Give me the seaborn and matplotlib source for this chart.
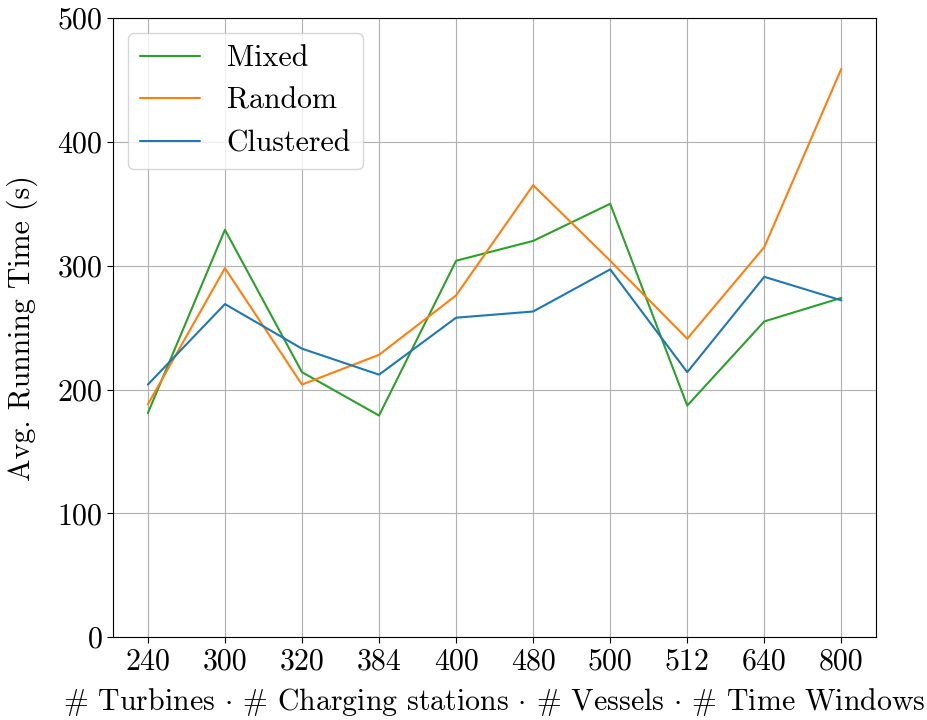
import matplotlib
matplotlib.use("Agg")
import matplotlib.pyplot as plt
import seaborn as sns
import pandas as pd

categories = ["240", "300", "320", "384", "400", "480", "500", "512", "640", "800"]
mixed = [181, 329, 214, 179, 304, 320, 350, 187, 255, 274]
random_ = [188, 298, 204, 228, 276, 365, 304, 241, 315, 459]
clustered = [204, 269, 233, 212, 258, 263, 297, 214, 291, 272]
series_names = ["Mixed", "Random", "Clustered"]
colors = ["#2ca02c", "#ff7f0e", "#1f77b4"]

df = pd.DataFrame({
    "x": categories * 3,
    "y": mixed + random_ + clustered,
    "series": [s for s in series_names for _ in categories],
})

sns.set_style("ticks")
plt.rcParams["font.family"] = ["cmr10"]
plt.rcParams["mathtext.fontset"] = "cm"
plt.rcParams["axes.unicode_minus"] = False
plt.rcParams["axes.formatter.use_mathtext"] = True
plt.rcParams["text.color"] = "black"
plt.rcParams["axes.labelcolor"] = "black"
plt.rcParams["xtick.color"] = "black"
plt.rcParams["ytick.color"] = "black"

fig = plt.figure(figsize=(9.28, 7.2), dpi=100)
ax = fig.add_axes([0.122, 0.115, 0.822, 0.86])
sns.lineplot(data=df, x="x", y="y", hue="series", hue_order=series_names,
             palette=colors, ax=ax, sort=False, linewidth=1.5)
ax.set_ylim(0, 500)
ax.set_yticks([0, 100, 200, 300, 400, 500])
ax.grid(True, color="#b0b0b0", linewidth=0.8)
ax.set_axisbelow(True)
for s in ax.spines.values():
    s.set_visible(True)
    s.set_color("black")
ax.tick_params(labelsize=21.5, length=4)
ax.set_ylabel("Avg. Running Time (s)", fontsize=21.5, labelpad=14)
ax.set_xlabel(r"$\#$ Turbines $\cdot$ $\#$ Charging stations $\cdot$ $\#$ Vessels $\cdot$ $\#$ Time Windows",
              fontsize=21.5, labelpad=8)
leg = ax.legend(loc="upper left", fontsize=21.5, title=None, handletextpad=0.9)
fig.savefig("out.png", dpi=100)
